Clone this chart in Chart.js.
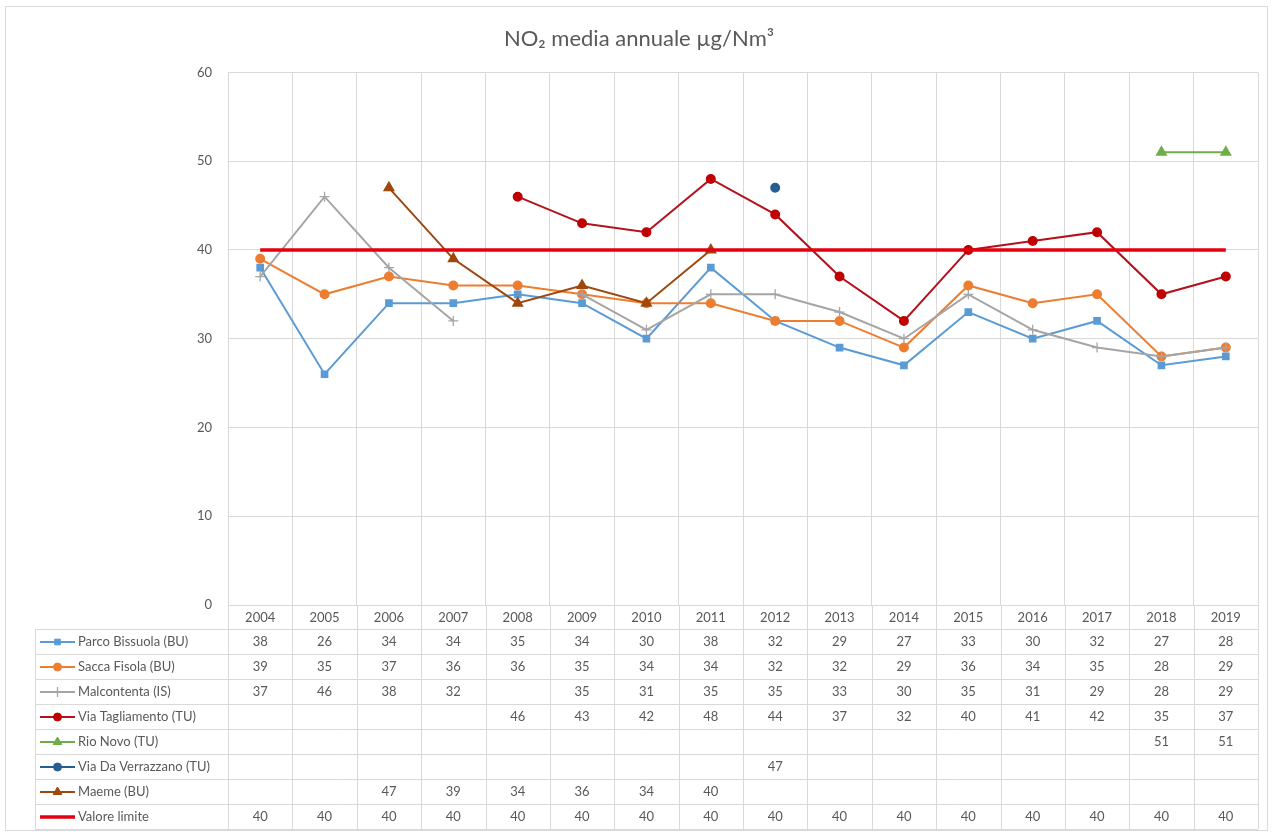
<!DOCTYPE html>
<html>
<head>
<meta charset="utf-8">
<style>
  html, body { margin: 0; padding: 0; background: #fff; }
  #wrap { width: 1272px; height: 832px; }
</style>
<script src="https://cdn.jsdelivr.net/npm/chart.js@4"></script>
</head>
<body>
<div id="wrap"><canvas id="no2Chart"></canvas></div>
<script>
const years = ["2004","2005","2006","2007","2008","2009","2010","2011","2012","2013","2014","2015","2016","2017","2018","2019"];
const parcoBissuola   = [38,26,34,34,35,34,30,38,32,29,27,33,30,32,27,28];
const saccaFisola     = [39,35,37,36,36,35,34,34,32,32,29,36,34,35,28,29];
const malcontenta     = [37,46,38,32,null,35,31,35,35,33,30,35,31,29,28,29];
const viaTagliamento  = [null,null,null,null,46,43,42,48,44,37,32,40,41,42,35,37];
const rioNovo         = [null,null,null,null,null,null,null,null,null,null,null,null,null,null,51,51];
const viaDaVerrazzano = [null,null,null,null,null,null,null,null,47,null,null,null,null,null,null,null];
const maeme           = [null,null,47,39,34,36,34,40,null,null,null,null,null,null,null,null];
const valoreLimite    = [40,40,40,40,40,40,40,40,40,40,40,40,40,40,40,40];

const textColor = "#595959";
const gridColor = "#d9d9d9";
const fontFamily = "Lato, 'Open Sans', sans-serif";

function series(label, data, color, style, radius, extra) {
  return Object.assign({
    label: label,
    data: data,
    borderColor: color,
    backgroundColor: color,
    pointBackgroundColor: color,
    pointBorderColor: color,
    pointStyle: style,
    pointRadius: radius,
    pointHoverRadius: radius,
    borderWidth: 2,
    tension: 0,
    spanGaps: false
  }, extra || {});
}

const datasets = [
  series("Parco Bissuola (BU)", parcoBissuola, "#5b9bd5", "rect", 4),
  series("Sacca Fisola (BU)", saccaFisola, "#ed7d31", "circle", 4),
  series("Malcontenta (IS)", malcontenta, "#a5a5a5", "cross", 5, {pointBorderWidth: 1.3}),
  series("Via Tagliamento (TU)", viaTagliamento, "#b3121c", "circle", 4, {pointBackgroundColor: "#c00000", pointBorderColor: "#c00000"}),
  series("Rio Novo (TU)", rioNovo, "#70ad47", "triangle", 5),
  series("Via Da Verrazzano (TU)", viaDaVerrazzano, "#255e91", "circle", 4),
  series("Maeme (BU)", maeme, "#9e480e", "triangle", 5),
  series("Valore limite", valoreLimite, "#e3000f", "circle", 0, {borderWidth: 3.5})
];
// Excel draws the later series on top
datasets.forEach((d, i) => { d.order = datasets.length - i; });

const tablePlugin = {
  id: "dataTable",
  beforeDraw(chart) {
    const ctx = chart.ctx;
    ctx.save();
    ctx.fillStyle = "#fff";
    ctx.fillRect(0, 0, chart.width, chart.height);
    ctx.strokeStyle = gridColor;
    ctx.lineWidth = 1;
    ctx.strokeRect(5.5, 6.5, 1262, 824);
    ctx.restore();
  },
  afterDraw(chart) {
    const ctx = chart.ctx;
    const x = chart.scales.x;
    const area = chart.chartArea;
    const sets = chart.data.datasets;
    const rowH = 25;
    const top = area.bottom + 24;
    const bottom = top + sets.length * rowH;
    const left = 35;
    const half = (x.getPixelForValue(1) - x.getPixelForValue(0)) / 2;

    ctx.save();
    ctx.strokeStyle = gridColor;
    ctx.lineWidth = 1;
    ctx.beginPath();
    for (let r = 0; r <= sets.length; r++) {
      const y = Math.round(top + r * rowH) + 0.5;
      ctx.moveTo(left, y);
      ctx.lineTo(area.right, y);
    }
    for (let i = 0; i <= years.length; i++) {
      const bx = Math.round(x.getPixelForValue(i) - half) + 0.5;
      ctx.moveTo(bx, area.bottom);
      ctx.lineTo(bx, bottom);
    }
    ctx.moveTo(left + 0.5, top);
    ctx.lineTo(left + 0.5, bottom);
    ctx.stroke();

    ctx.font = "13px " + fontFamily;
    ctx.textBaseline = "middle";
    sets.forEach((ds, r) => {
      const cy = top + r * rowH + rowH / 2 + 0.5;
      // legend key
      ctx.strokeStyle = ds.borderColor;
      ctx.lineWidth = ds.borderWidth;
      ctx.beginPath();
      ctx.moveTo(40, cy);
      ctx.lineTo(75, cy);
      ctx.stroke();
      if (ds.pointRadius > 0) {
        ctx.fillStyle = ds.pointBackgroundColor;
        ctx.strokeStyle = ds.pointBorderColor;
        ctx.lineWidth = ds.pointBorderWidth || 1;
        Chart.helpers.drawPoint(ctx, {pointStyle: ds.pointStyle, radius: ds.pointRadius, rotation: 0, borderWidth: ds.pointBorderWidth || 1}, 57.5, cy);
      }
      ctx.fillStyle = textColor;
      ctx.textAlign = "left";
      ctx.fillText(ds.label, 78, cy);
      // values
      ctx.textAlign = "center";
      ds.data.forEach((v, i) => {
        if (v === null) return;
        ctx.fillText(String(v), x.getPixelForValue(i), cy);
      });
    });
    ctx.restore();
  }
};

new Chart(document.getElementById("no2Chart"), {
  type: "line",
  data: {
    labels: years,
    datasets: datasets
  },
  options: {
    responsive: true,
    maintainAspectRatio: false,
    animation: false,
    layout: {
      padding: { left: 20, right: 14, top: 0, bottom: 203 }
    },
    plugins: {
      legend: { display: false },
      tooltip: { enabled: false },
      title: {
        display: true,
        text: "NO\u2082 media annuale \u00b5g/Nm\u00b3",
        color: textColor,
        font: { family: fontFamily, size: 22, weight: "normal" },
        padding: { top: 26, bottom: 20 }
      }
    },
    scales: {
      x: {
        offset: true,
        grid: { offset: true, color: gridColor, drawTicks: false },
        border: { display: false },
        ticks: { color: textColor, padding: 5, font: { family: fontFamily, size: 13 }, maxRotation: 0 },
        afterFit(scale) { scale.height = 24; }
      },
      y: {
        min: 0,
        max: 60,
        ticks: { stepSize: 10, color: textColor, padding: 16, font: { family: fontFamily, size: 13 } },
        grid: { color: gridColor, drawTicks: false },
        border: { display: false },
        afterFit(scale) { scale.width = 208; }
      }
    }
  },
  plugins: [tablePlugin]
});
</script>
</body>
</html>
